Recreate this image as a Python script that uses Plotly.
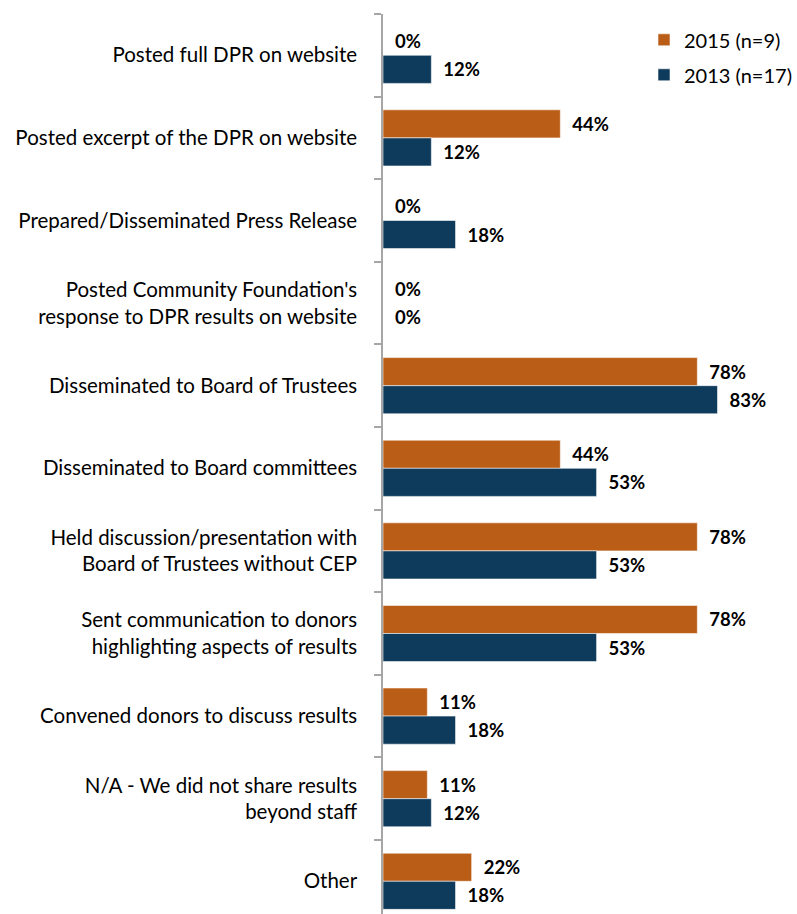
import plotly.graph_objects as go

categories = [
    "Posted full DPR on website",
    "Posted excerpt of the DPR on website",
    "Prepared/Disseminated Press Release",
    "Posted Community Foundation's<br>response to DPR results on website",
    "Disseminated to Board of Trustees",
    "Disseminated to Board committees",
    "Held discussion/presentation with<br>Board of Trustees without CEP",
    "Sent communication to donors<br>highlighting aspects of results",
    "Convened donors to discuss results",
    "N/A - We did not share results<br>beyond staff",
    "Other",
]
values_2015 = [0, 44, 0, 0, 78, 44, 78, 78, 11, 11, 22]
values_2013 = [12, 12, 18, 0, 83, 53, 53, 53, 18, 12, 18]

series = [
    ("2015 (n=9)", values_2015, "#BA5D17"),
    ("2013 (n=17)", values_2013, "#0E3A5C"),
]

fig = go.Figure()
for name, vals, color in series:
    fig.add_trace(go.Bar(
        y=categories,
        x=vals,
        name=name,
        orientation="h",
        legendgroup=name,
        marker=dict(color=color, line=dict(color="rgba(255,255,255,0.55)", width=1)),
        texttemplate="\u00a0\u00a0%{x}%",
        textposition="outside",
        constraintext="none",
        cliponaxis=False,
        textfont=dict(family="Lato", size=18.5, color="#000000", weight="bold"),
    ))

fig.update_layout(
    width=797,
    height=914,
    margin=dict(l=383, r=10, t=14, b=0),
    paper_bgcolor="white",
    plot_bgcolor="white",
    barmode="group",
    bargap=0.32,
    bargroupgap=0,
    font=dict(family="Lato", size=20.5, color="#000000"),
    showlegend=True,
    legend=dict(
        x=0.648, y=0.993, xanchor="left", yanchor="top",
        font=dict(family="Lato", size=20, color="#000000"),
        traceorder="grouped",
        tracegroupgap=6,
        bgcolor="rgba(0,0,0,0)",
    ),
    xaxis=dict(
        range=[0, 100],
        visible=False,
        showgrid=False,
        zeroline=False,
    ),
    yaxis=dict(
        type="category",
        categoryorder="array",
        categoryarray=categories,
        range=[10.396, -0.5],
        showline=True,
        linecolor="#A6A6A6",
        linewidth=1.5,
        ticks="outside",
        tickson="boundaries",
        ticklen=7,
        tickcolor="#A6A6A6",
        tickwidth=1.5,
        ticklabelstandoff=20,
        automargin=False,
        showgrid=False,
        zeroline=False,
    ),
)

fig.write_html("out.html")
